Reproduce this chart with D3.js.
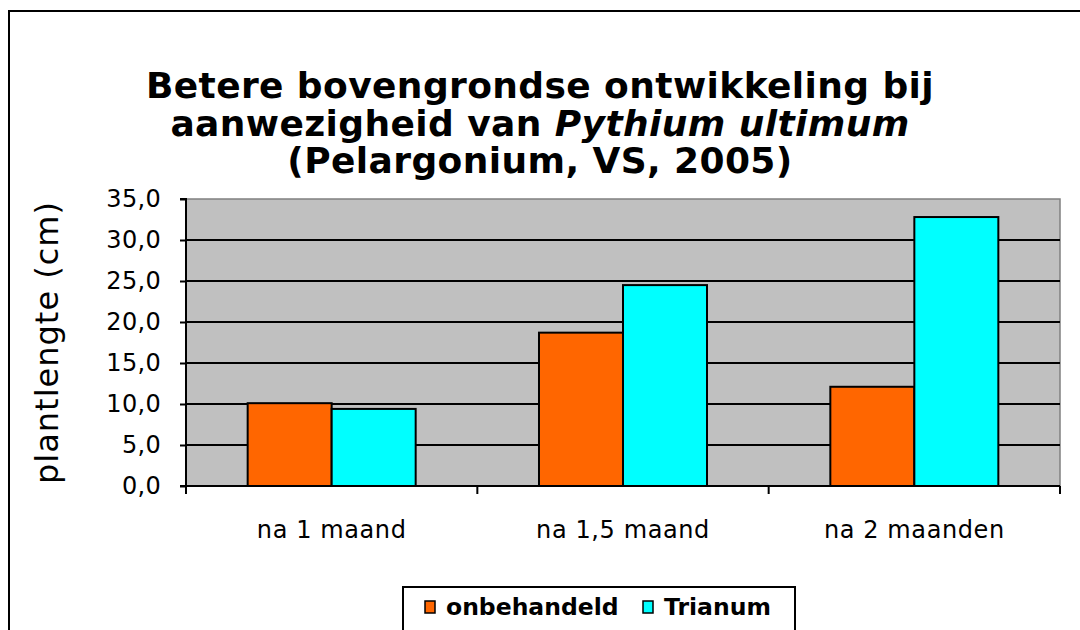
<!DOCTYPE html>
<html>
<head>
<meta charset="utf-8">
<script src="https://cdn.jsdelivr.net/npm/d3@7"></script>
<style>
  body { margin: 0; background: #fff; }
  svg { display: block; font-family: "DejaVu Sans", Verdana, sans-serif; }
</style>
</head>
<body>
<svg width="1080" height="630"></svg>
<script>
// chart data
var categories = ["na 1 maand", "na 1,5 maand", "na 2 maanden"];
var seriesNames = ["onbehandeld", "Trianum"];
var onbehandeld = [10.1, 18.7, 12.1];
var trianum = [9.4, 24.5, 32.8];
var yTicks = [0, 5, 10, 15, 20, 25, 30, 35];
var colors = ["#FF6600", "#00FFFF"];

var svg = d3.select("svg");

// outer chart border (runs off the bottom/right of the picture)
svg.append("rect").attr("x", 9).attr("y", 11).attr("width", 1100).attr("height", 700)
  .attr("fill", "none").attr("stroke", "#000").attr("stroke-width", 2);

// title
var title = svg.append("text").attr("text-anchor", "middle")
  .attr("font-weight", "bold").attr("font-size", 36).attr("letter-spacing", 0.4).attr("fill", "#000");
title.append("tspan").attr("x", 540).attr("y", 98).text("Betere bovengrondse ontwikkeling bij");
var l2 = title.append("tspan").attr("x", 540).attr("y", 136);
l2.append("tspan").text("aanwezigheid van ");
l2.append("tspan").attr("font-style", "italic").text("Pythium ultimum");
title.append("tspan").attr("x", 540).attr("y", 173).text("(Pelargonium, VS, 2005)");

var pLeft = 186, pRight = 1060, pTop = 199, pBottom = 486;

var y = d3.scaleLinear().domain([0, 35]).range([pBottom, pTop]);
var x0 = d3.scaleBand().domain(categories).range([pLeft, pRight]).paddingInner(0).paddingOuter(0);
var x1 = d3.scaleBand().domain(seriesNames).range([0, x0.bandwidth()]).paddingInner(0).paddingOuter(0.734);

// plot area
svg.append("rect").attr("x", pLeft).attr("y", pTop).attr("width", pRight - pLeft).attr("height", pBottom - pTop)
  .attr("fill", "#C0C0C0").attr("stroke", "#808080").attr("stroke-width", 1.5);

// gridlines
svg.append("g").selectAll("line").data(yTicks.filter(function(d){ return d > 0 && d < 35; })).enter()
  .append("line")
  .attr("x1", pLeft).attr("x2", pRight)
  .attr("y1", function(d){ return y(d); }).attr("y2", function(d){ return y(d); })
  .attr("stroke", "#000").attr("stroke-width", 2);

// bars
var rows = categories.map(function(c, i){
  return {cat: c, vals: [{s: seriesNames[0], v: onbehandeld[i], c: colors[0]},
                         {s: seriesNames[1], v: trianum[i], c: colors[1]}]};
});
var groups = svg.append("g").selectAll("g").data(rows).enter().append("g")
  .attr("transform", function(d){ return "translate(" + x0(d.cat) + ",0)"; });
groups.selectAll("rect").data(function(d){ return d.vals; }).enter().append("rect")
  .attr("x", function(d){ return x1(d.s); })
  .attr("width", x1.bandwidth())
  .attr("y", function(d){ return y(d.v); })
  .attr("height", function(d){ return pBottom - y(d.v); })
  .attr("fill", function(d){ return d.c; })
  .attr("stroke", "#000").attr("stroke-width", 2);

// y axis
var yAxis = svg.append("g").attr("transform", "translate(" + pLeft + ",0)")
  .call(d3.axisLeft(y).tickValues(yTicks).tickSize(6).tickPadding(19)
    .tickFormat(function(d){ return d3.format(".1f")(d).replace(".", ","); }));
yAxis.select(".domain").attr("stroke", "#000").attr("stroke-width", 2).attr("d", "M-6," + pTop + "H0V" + pBottom + "H-6");
yAxis.selectAll(".tick line").attr("stroke", "#000").attr("stroke-width", 2);
yAxis.selectAll("text").attr("font-size", 24).attr("letter-spacing", 0.3).attr("fill", "#000").attr("font-family", "DejaVu Sans");

// x axis
var xAxis = svg.append("g").attr("transform", "translate(0," + pBottom + ")")
  .call(d3.axisBottom(x0).tickSize(0).tickPadding(35));
xAxis.select(".domain").attr("stroke", "#000").attr("stroke-width", 2).attr("d", "M" + pLeft + ",0H" + pRight);
xAxis.selectAll("text").attr("font-size", 24).attr("letter-spacing", 0.6).attr("fill", "#000").attr("font-family", "DejaVu Sans");
xAxis.selectAll("line.sep").data([pLeft].concat(categories.map(function(c){ return x0(c) + x0.bandwidth(); })))
  .enter().append("line").attr("class", "sep")
  .attr("x1", function(d){ return d; }).attr("x2", function(d){ return d; })
  .attr("y1", 0).attr("y2", 8).attr("stroke", "#000").attr("stroke-width", 2);

// y label
svg.append("text").attr("transform", "translate(58," + ((pTop + pBottom) / 2) + ") rotate(-90)")
  .attr("text-anchor", "middle").attr("font-size", 32).attr("letter-spacing", 1)
  .attr("fill", "#000").text("plantlengte (cm)");

// legend
var lg = svg.append("g");
lg.append("rect").attr("x", 403).attr("y", 587).attr("width", 392).attr("height", 60)
  .attr("fill", "#fff").attr("stroke", "#000").attr("stroke-width", 2);
var legendX = [425, 643];
seriesNames.forEach(function(s, i){
  lg.append("rect").attr("x", legendX[i]).attr("y", 601).attr("width", 10).attr("height", 12)
    .attr("fill", colors[i]).attr("stroke", "#000").attr("stroke-width", 1.5);
  lg.append("text").attr("x", legendX[i] + 21).attr("y", 615).attr("font-size", 23.5)
    .attr("font-weight", "bold").attr("fill", "#000").text(s);
});
</script>
</body>
</html>
